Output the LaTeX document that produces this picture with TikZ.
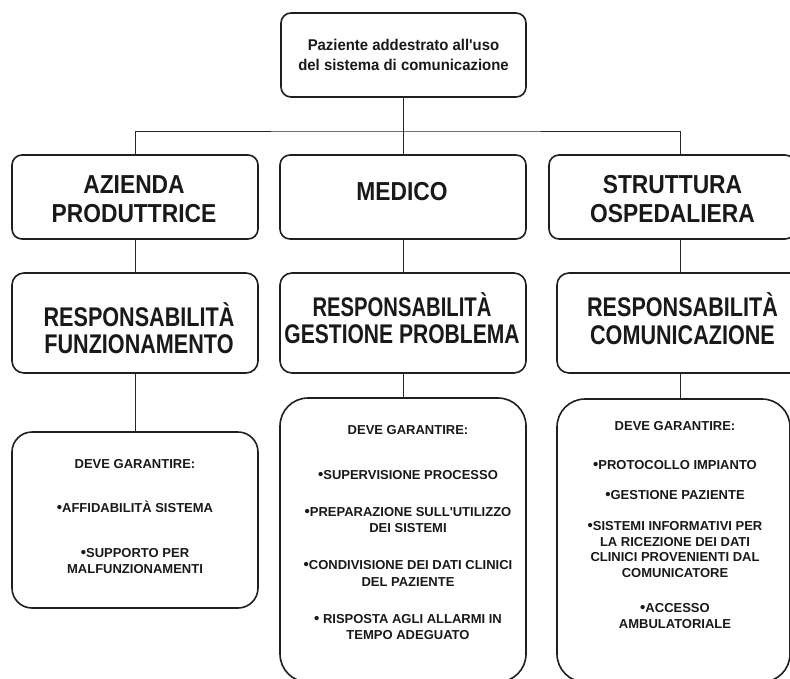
\documentclass[tikz,border=0pt]{standalone}
\usepackage{fontspec}
\setmainfont{Liberation Sans}
\usepackage{graphicx}
\newcommand{\hsc}[2]{\scalebox{#1}[1]{#2}}
\newcommand{\bul}{{\fontsize{15}{15}\selectfont•}}
\newcommand{\apo}{\textquotesingle}
\begin{document}
\begin{tikzpicture}[x=1pt,y=-1pt,
  box/.style={draw=black!88, line width=1.6pt, rounded corners=#1, inner sep=0pt},
  box/.default=10pt,
  wire/.style={draw=black!85, line width=1pt},
  txt/.style={inner sep=0pt, text=black!90, font=\bfseries, anchor=base}]
\useasboundingbox (0,0) rectangle (790,678);

% boxes
\node[box, minimum width=245pt, minimum height=84pt] (top) at (403.5,55) {};
\node[box, minimum width=246pt, minimum height=84pt] (a1) at (135,197) {};
\node[box, minimum width=246pt, minimum height=84pt] (m1) at (403,197) {};
\node[box, minimum width=246pt, minimum height=84pt] (s1) at (672,197) {};
\node[box=12pt, minimum width=246pt, minimum height=100pt] (a2) at (135,323) {};
\node[box=12pt, minimum width=246pt, minimum height=100pt] (m2) at (403,323) {};
\node[box=12pt, minimum width=246pt, minimum height=100pt] (s2) at (680,323) {};
\node[box=20pt, minimum width=246pt, minimum height=176pt] (a3) at (135,520) {};
\node[box=28pt, minimum width=246pt, minimum height=284pt] (m3) at (403,540) {};
\node[box=28pt, minimum width=233pt, minimum height=283pt] (s3) at (673.5,540.5) {};

% connectors
\coordinate (bus) at (403.5,131);
\draw[wire] (top.south) -- (bus);
\draw[wire] (a1.north) |- (bus) -| (s1.north -| s2.north);
\draw[wire] (m1.north) -- (m1.north |- bus);
\draw[wire] (a1.south) -- (a2.north);
\draw[wire] (m1.south) -- (m2.north);
\draw[wire] (s1.south -| s2.north) -- (s2.north);
\draw[wire] (a2.south) -- (a3.north);
\draw[wire] (m2.south) -- (m2.south |- m3.north);
\draw[wire] (s2.south) -- (s2.south |- s3.north);

% texts
\node[txt] (ttop) at (403.5,50) {\hsc{0.955}{\fontsize{15.6}{20.7}\selectfont\begin{tabular}[t]{@{}c@{}}Paziente addestrato all\apo uso\\del sistema di comunicazione\end{tabular}}};

\node[txt] (ta1) at (134,193.3) {\hsc{0.877}{\fontsize{26}{29}\selectfont\begin{tabular}[t]{@{}c@{}}AZIENDA\\PRODUTTRICE\end{tabular}}};
\node[txt] (tm1) at (402,200.7) {\hsc{0.877}{\fontsize{26}{29}\selectfont MEDICO}};
\node[txt] (ts1) at (672.5,193.3) {\hsc{0.877}{\fontsize{26}{29}\selectfont\begin{tabular}[t]{@{}c@{}}STRUTTURA\\OSPEDALIERA\end{tabular}}};

\node[txt] (ta2) at (139,326.7) {\hsc{0.8}{\fontsize{27}{26}\selectfont\begin{tabular}[t]{@{}c@{}}RESPONSABILITÀ\\FUNZIONAMENTO\end{tabular}}};
\node[txt] (tm2) at (402,316.7) {\fontsize{27}{26.5}\selectfont\begin{tabular}[t]{@{}c@{}}\hsc{0.75}{RESPONSABILITÀ}\\\hsc{0.78}{GESTIONE PROBLEMA}\end{tabular}};
\node[txt] (ts2) at (682.5,316.7) {\hsc{0.8}{\fontsize{27}{27.5}\selectfont\begin{tabular}[t]{@{}c@{}}RESPONSABILITÀ\\COMUNICAZIONE\end{tabular}}};

\node[txt] (ta3) at (135,468) {\fontsize{13}{16}\selectfont\begin{tabular}[t]{@{}c@{}}DEVE GARANTIRE:\\[28pt]\bul AFFIDABILITÀ SISTEMA\\[29pt]\bul SUPPORTO PER\\MALFUNZIONAMENTI\end{tabular}};
\node[txt] (tm3) at (408,434) {\fontsize{13}{16.5}\selectfont\begin{tabular}[t]{@{}c@{}}DEVE GARANTIRE:\\[28.5pt]\bul SUPERVISIONE PROCESSO\\[20.5pt]\bul PREPARAZIONE SULL\apo UTILIZZO\\DEI SISTEMI\\[20.5pt]\bul CONDIVISIONE DEI DATI CLINICI\\DEL PAZIENTE\\[20.5pt]\bul{} RISPOSTA AGLI ALLARMI IN\\TEMPO ADEGUATO\end{tabular}};
\node[txt] (ts3) at (675,430) {\fontsize{13}{15.5}\selectfont\begin{tabular}[t]{@{}c@{}}DEVE GARANTIRE:\\[23.5pt]\bul PROTOCOLLO IMPIANTO\\[14.5pt]\bul GESTIONE PAZIENTE\\[16pt]\bul SISTEMI INFORMATIVI PER\\LA RICEZIONE DEI DATI\\CLINICI PROVENIENTI DAL\\COMUNICATORE\\[20pt]\bul ACCESSO\\AMBULATORIALE\end{tabular}};
\end{tikzpicture}
\end{document}
